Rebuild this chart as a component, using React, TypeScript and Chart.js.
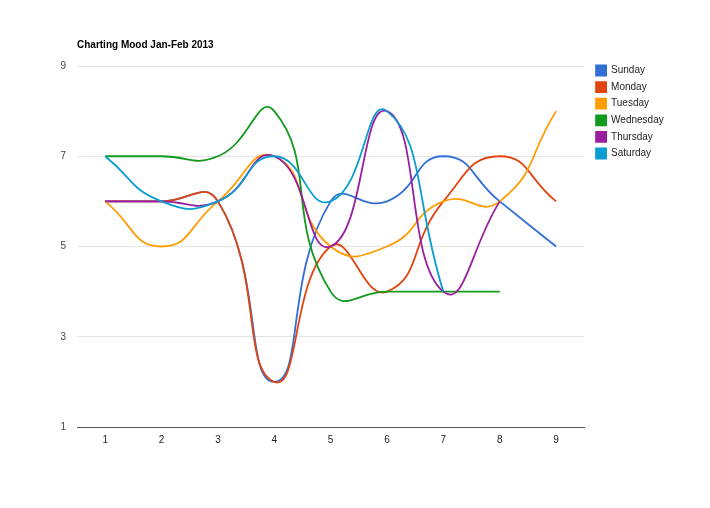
import React, { useEffect, useRef } from "react";
import { Chart, registerables } from "chart.js";

Chart.register(...registerables);

const TITLE = "Charting Mood Jan-Feb 2013";
const categories = ["1", "2", "3", "4", "5", "6", "7", "8", "9"];
const yTicks = [1, 3, 5, 7, 9];

const sunday = [6, 6, 6, 2, 6, 6, 7, 6, 5];
const monday = [6, 6, 6, 2, 5, 4, 6, 7, 6];
const tuesday = [6, 5, 6, 7, 5, 5, 6, 6, 8];
const wednesday = [7, 7, 7, 8, 4, 4, 4, 4];
const thursday = [6, 6, 6, 7, 5, 8, 4, 6];
const saturday = [7, 6, 6, 7, 6, 8, 4];

const seriesNames = ["Sunday", "Monday", "Tuesday", "Wednesday", "Thursday", "Saturday"];
const seriesValues = [sunday, monday, tuesday, wednesday, thursday, saturday];
const seriesColors = ["#2f6fd6", "#e2440f", "#ff9c00", "#129a1c", "#9a1f9f", "#0a9dcf"];

const FONT = "'Liberation Sans', Arial, sans-serif";

const legendNudge = {
  id: "legendNudge",
  afterLayout(chart: any) {
    const lg = chart.legend;
    if (!lg) return;
    const dx = 5.2;
    const dy = -7.1;
    lg.left += dx;
    lg.right += dx;
    lg.top += dy;
    lg.bottom += dy;
  },
};

export default function App() {
  const ref = useRef<HTMLCanvasElement | null>(null);
  useEffect(() => {
    if (!ref.current) return;
    const chart = new Chart(ref.current, {
      type: "line",
      data: {
        labels: categories,
        datasets: seriesNames.map((name, i) => ({
          label: name,
          data: seriesValues[i],
          borderColor: seriesColors[i],
          backgroundColor: seriesColors[i],
          borderWidth: 1.8,
          pointRadius: 0,
          pointHoverRadius: 0,
          tension: 0.52,
          fill: false,
          order: seriesNames.length - i,
        })),
      },
      options: {
        responsive: false,
        animation: false,
        devicePixelRatio: 1,
        layout: { padding: { left: 20, right: 41.5, top: 30, bottom: 55 } },
        scales: {
          x: {
            offset: true,
            grid: { display: false, drawTicks: false, tickLength: 0 },
            border: { display: true, color: "#555555", width: 1 },
            ticks: {
              color: "#222222",
              font: { family: FONT, size: 10 },
              padding: 7,
              maxRotation: 0,
            },
          },
          y: {
            min: 1,
            max: 9,
            afterFit: (s: any) => {
              s.width = 57;
            },
            afterBuildTicks: (s: any) => {
              s.ticks = yTicks.map((v) => ({ value: v }));
            },
            grid: { color: "#e4e4e4", drawTicks: false, lineWidth: 1 },
            border: { display: false },
            ticks: {
              color: "#444444",
              font: { family: FONT, size: 10 },
              padding: 11,
            },
          },
        },
        plugins: {
          title: {
            display: true,
            text: TITLE,
            align: "start",
            fullSize: false,
            color: "#000000",
            font: { family: FONT, size: 10, weight: "bold" },
            padding: { top: 9, bottom: 15 },
          },
          legend: {
            display: true,
            position: "right",
            align: "start",
            fullSize: false,
            labels: {
              boxWidth: 10,
              boxHeight: 10,
              padding: 6.6,
              color: "#222222",
              font: { family: FONT, size: 10 },
              sort: (a: any, b: any) => a.datasetIndex - b.datasetIndex,
            },
          },
          tooltip: { enabled: false },
        },
      },
      plugins: [legendNudge],
    } as any);
    return () => chart.destroy();
  }, []);
  return (
    <div style={{ position: "fixed", left: 0, top: 0, width: 710, height: 508, background: "#ffffff" }}>
      <canvas ref={ref} width={710} height={508} />
    </div>
  );
}
